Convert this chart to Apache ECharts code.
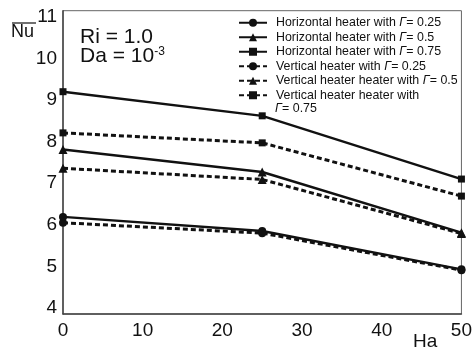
<!DOCTYPE html>
<html>
<head>
<meta charset="utf-8">
<script src="https://cdn.jsdelivr.net/npm/echarts@6/dist/echarts.min.js"></script>
<style>
  html, body { margin: 0; padding: 0; background: #fff; }
  #chart { width: 475px; height: 348px; }
</style>
</head>
<body>
<div id="chart"></div>
<script>
// Hartmann number (x axis)
const ha = [0, 25, 50];

// Average Nusselt number for each heater configuration
const horiz025 = [6.19, 5.85, 4.93];
const horiz05  = [7.81, 7.27, 5.81];
const horiz075 = [9.20, 8.62, 7.10];
const vert025  = [6.05, 5.80, 4.91];
const vert05   = [7.36, 7.09, 5.79];
const vert075  = [8.21, 7.97, 6.69];

// Tick labels
const xTicks = [0, 10, 20, 30, 40, 50];
const yTicks = [4, 5, 6, 7, 8, 9, 10, 11];

const seriesNames = [
  'Horizontal heater with Γ= 0.25',
  'Horizontal heater with Γ= 0.5',
  'Horizontal heater with Γ= 0.75',
  'Vertical heater with Γ= 0.25',
  'Vertical heater heater with Γ= 0.5',
  'Vertical heater heater with Γ= 0.75'
];
const seriesValues = [horiz025, horiz05, horiz075, vert025, vert05, vert075];
const seriesSymbols = ['circle', 'triangle', 'rect', 'circle', 'triangle', 'rect'];
const seriesDashed = [false, false, false, true, true, true];

const FONT = '"Liberation Sans", Arial, Helvetica, sans-serif';
const INK = '#111';
const LAST = seriesNames[seriesNames.length - 1];
const LEGEND_SIZE = 12.4;

const chart = echarts.init(document.getElementById('chart'), null, { renderer: 'canvas' });

const series = seriesNames.map((name, i) => ({
  name: name,
  type: 'line',
  data: ha.map((x, j) => [x, seriesValues[i][j]]),
  symbol: seriesSymbols[i],
  symbolSize: seriesSymbols[i] === 'rect' ? 7 : (seriesSymbols[i] === 'triangle' ? 9 : 8),
  showAllSymbol: true,
  clip: false,
  lineStyle: {
    color: INK,
    width: seriesDashed[i] ? 3 : 2.4,
    type: seriesDashed[i] ? [5, 3] : 'solid'
  },
  itemStyle: { color: INK, borderWidth: 0 },
  emphasis: { disabled: true },
  z: seriesDashed[i] ? 2 : 3
}));

const italicGamma = (s) => s.replace('Γ', '{g|Γ}');

chart.setOption({
  animation: false,
  backgroundColor: '#fff',
  textStyle: { fontFamily: FONT, color: INK },
  grid: {
    left: 63, right: 10, top: 10.7, bottom: 34,
    show: true, borderColor: '#666', borderWidth: 1, backgroundColor: 'transparent'
  },
  legend: {
    orient: 'vertical',
    left: 238, top: 15.5,
    padding: 0,
    itemGap: 0,
    itemWidth: 28,
    itemHeight: 10,
    selectedMode: false,
    data: seriesNames,
    textStyle: {
      fontFamily: FONT, fontSize: LEGEND_SIZE, color: INK, lineHeight: 14.5,
      padding: [0, 0, 0, 4],
      rich: {
        g: { fontFamily: FONT, fontSize: LEGEND_SIZE, fontStyle: 'italic', color: INK, lineHeight: 14.5 }
      }
    },
    formatter: function (name) {
      // the last entry wraps: its Γ value continues on the line below
      if (name === LAST) return name.split(' Γ')[0];
      return italicGamma(name);
    }
  },
  xAxis: {
    type: 'value',
    min: 0, max: 50, interval: 10,
    axisLine: { show: true, onZero: false, lineStyle: { color: '#444', width: 1.5 } },
    axisTick: { show: false },
    splitLine: { show: false },
    axisLabel: {
      margin: 7, fontSize: 19, color: INK, fontFamily: FONT,
      customValues: xTicks
    }
  },
  yAxis: {
    type: 'value',
    min: 3.856, max: 11.147,
    axisLine: { show: true, onZero: false, lineStyle: { color: '#444', width: 1.5 } },
    axisTick: { show: false },
    splitLine: { show: false },
    axisLabel: {
      margin: 6, fontSize: 19, color: INK, fontFamily: FONT,
      customValues: yTicks
    }
  },
  graphic: [
    // continuation line of the last legend entry
    {
      type: 'text', left: 275, top: 102.5,
      style: {
        text: italicGamma('Γ' + LAST.split(' Γ')[1]),
        font: LEGEND_SIZE + 'px ' + FONT, fill: INK,
        rich: { g: { font: 'italic ' + LEGEND_SIZE + 'px ' + FONT, fill: INK } }
      }
    },
    // Axis title: average Nusselt number
    { type: 'text', left: 11, top: 23, style: { text: 'Nu', font: '18px ' + FONT, fill: INK } },
    { type: 'line', shape: { x1: 12, y1: 23, x2: 36, y2: 23 }, style: { stroke: INK, lineWidth: 1.2 } },
    // Axis title: Hartmann number
    { type: 'text', left: 413, top: 332, style: { text: 'Ha', font: '19px ' + FONT, fill: INK } },
    // Parameter annotations
    { type: 'text', left: 80, top: 27, style: { text: 'Ri = 1.0', font: '21px ' + FONT, fill: INK } },
    {
      type: 'text', left: 80, top: 46,
      style: {
        text: '{b|Da = 10}{s|-3}',
        rich: {
          b: { font: '21px ' + FONT, fill: INK, verticalAlign: 'bottom' },
          s: { font: '12px ' + FONT, fill: INK, verticalAlign: 'top', padding: [0, 0, 8, 0] }
        }
      }
    }
  ],
  series: series
});
</script>
</body>
</html>
